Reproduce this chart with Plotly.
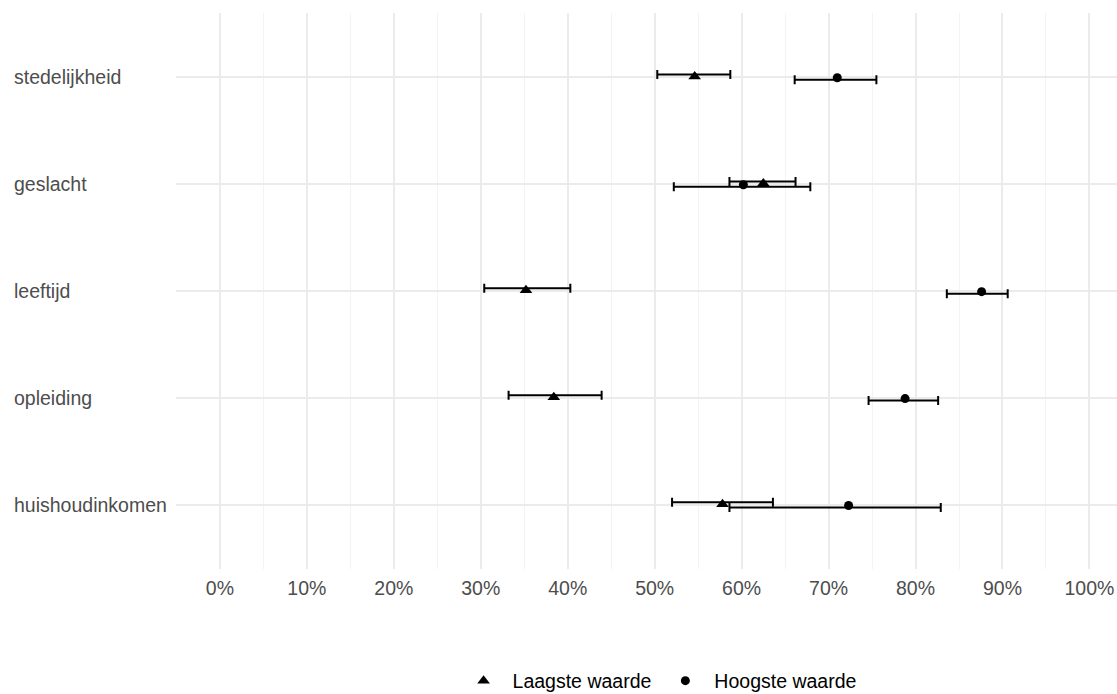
import plotly.graph_objects as go

categories = ["huishoudinkomen", "opleiding", "leeftijd", "geslacht", "stedelijkheid"]

low_mean = [57.8, 38.4, 35.2, 62.5, 54.6]
low_lower = [52.0, 33.2, 30.4, 58.6, 50.3]
low_upper = [63.6, 43.9, 40.3, 66.2, 58.7]

high_mean = [72.3, 78.8, 87.6, 60.2, 71.0]
high_lower = [58.6, 74.6, 83.6, 52.2, 66.1]
high_upper = [82.9, 82.6, 90.6, 67.9, 75.5]

x_ticks = [0, 10, 20, 30, 40, 50, 60, 70, 80, 90, 100]
x_ticklabels = [f"{v}%" for v in x_ticks]

FONT = "Liberation Sans, Arial, sans-serif"
idx = list(range(len(categories)))

fig = go.Figure()

series = [
    ("Laagste waarde", low_mean, low_lower, low_upper, "triangle-up", 11, 0.025, 0.006),
    ("Hoogste waarde", high_mean, high_lower, high_upper, "circle", 9, -0.025, -0.006),
]

for name, mean, lower, upper, sym, size, bar_off, mk_off in series:
    fig.add_trace(go.Scatter(
        x=mean, y=[i + bar_off for i in idx], mode="markers",
        marker=dict(size=1, color="rgba(0,0,0,0)"),
        error_x=dict(type="data", symmetric=False,
                     array=[u - m for u, m in zip(upper, mean)],
                     arrayminus=[m - l for m, l in zip(mean, lower)],
                     color="black", thickness=2, width=4.5),
        showlegend=False, hoverinfo="skip"))
    fig.add_trace(go.Scatter(
        x=mean, y=[i + mk_off for i in idx], mode="markers", name=name,
        marker=dict(symbol=sym, size=size, color="black", line=dict(width=0))))

for i, c in zip(idx, categories):
    fig.add_annotation(text=c, xref="paper", yref="y", x=-164 / 941, y=i,
                       xanchor="left", yanchor="middle", showarrow=False,
                       font=dict(family=FONT, size=19.5, color="#4D4D4D"))

fig.update_xaxes(range=[-5.05, 103.17], tickvals=x_ticks, ticktext=x_ticklabels,
                 showgrid=True, gridcolor="#EBEBEB", gridwidth=2,
                 minor=dict(dtick=5, tick0=0, showgrid=True, gridcolor="#F3F3F3", gridwidth=1),
                 zeroline=False, showline=False, ticks="",
                 ticklabelstandoff=5,
                 tickfont=dict(family=FONT, size=19.5, color="#4D4D4D"))
fig.update_yaxes(range=[-0.6, 4.6], tickvals=idx, showticklabels=False,
                 showgrid=True, gridcolor="#EBEBEB", gridwidth=2,
                 zeroline=False, showline=False, ticks="")

fig.update_layout(
    width=1117, height=694,
    margin=dict(l=176, r=0, t=13, b=125, autoexpand=False),
    paper_bgcolor="white", plot_bgcolor="white",
    font=dict(family=FONT, size=19.5, color="black"),
    legend=dict(orientation="h", x=0.5123, xanchor="center",
                yref="container", y=1 - 681 / 694, yanchor="middle",
                font=dict(family=FONT, size=19.5, color="black"),
                itemwidth=48, bgcolor="rgba(0,0,0,0)"),
)

fig.write_html("out.html", config={"displayModeBar": False},
               post_script="document.body.style.margin='0';document.body.style.overflow='hidden';")
